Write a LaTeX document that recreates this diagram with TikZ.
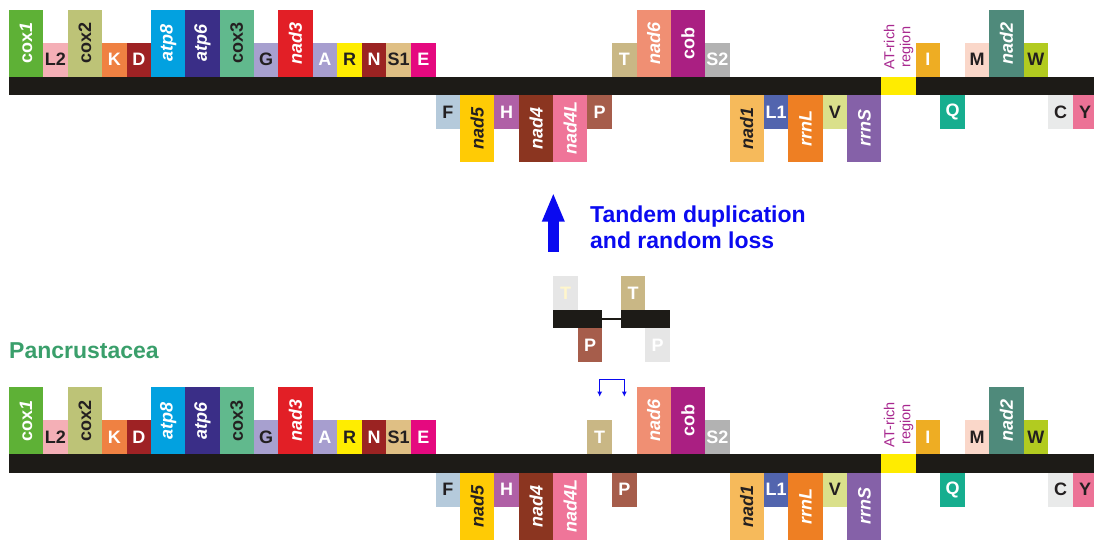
\documentclass[tikz,border=0pt]{standalone}
\usepackage{fontspec}
\setmainfont{Liberation Sans}
\usepackage{graphicx}
\usepackage{xcolor}
\usetikzlibrary{positioning,arrows.meta,calc}
\definecolor{strand}{HTML}{1D1B17}
\definecolor{darktext}{HTML}{231F20}
\definecolor{gcox1}{HTML}{5EB136}
\definecolor{gL2}{HTML}{F4AFB6}
\definecolor{gcox2}{HTML}{BDC377}
\definecolor{gK}{HTML}{EF8142}
\definecolor{gD}{HTML}{9E2224}
\definecolor{gatp8}{HTML}{02A1E0}
\definecolor{gatp6}{HTML}{3A2E87}
\definecolor{gcox3}{HTML}{61B98D}
\definecolor{gG}{HTML}{A7A0CF}
\definecolor{gnad3}{HTML}{E21F26}
\definecolor{gA}{HTML}{A79ECF}
\definecolor{gR}{HTML}{FFED00}
\definecolor{gN}{HTML}{9B2322}
\definecolor{gS1}{HTML}{DFBF84}
\definecolor{gE}{HTML}{E5097F}
\definecolor{gF}{HTML}{B5CADB}
\definecolor{gnad5}{HTML}{FFCB05}
\definecolor{gH}{HTML}{B060A6}
\definecolor{gnad4}{HTML}{8B3520}
\definecolor{gnad4L}{HTML}{EF7599}
\definecolor{gP}{HTML}{A65D4B}
\definecolor{gT}{HTML}{C9B785}
\definecolor{gnad6}{HTML}{F08F73}
\definecolor{gcob}{HTML}{AA1F82}
\definecolor{gS2}{HTML}{B2B2B2}
\definecolor{gnad1}{HTML}{F6BA5B}
\definecolor{gL1}{HTML}{5265AE}
\definecolor{grrnL}{HTML}{EE7F23}
\definecolor{gV}{HTML}{DAE08B}
\definecolor{grrnS}{HTML}{8561A8}
\definecolor{gAT}{HTML}{FFEC00}
\definecolor{gI}{HTML}{EEAD23}
\definecolor{gQ}{HTML}{16AE8F}
\definecolor{gM}{HTML}{FAD7C9}
\definecolor{gnad2}{HTML}{4F8A7B}
\definecolor{gW}{HTML}{B2CB20}
\definecolor{gC}{HTML}{E9EAEA}
\definecolor{gY}{HTML}{EC7296}
\definecolor{atrich}{HTML}{A8288F}
\definecolor{dupblue}{HTML}{0A0AF0}
\definecolor{clade}{HTML}{3A9F6B}
\definecolor{ghost}{HTML}{E6E6E6}
\definecolor{ghostT}{HTML}{FFF6CC}
\newcommand\genefont{\bfseries\fontsize{18}{18}\selectfont}
\newcommand\vlab[1]{\rotatebox{90}{#1}}
\tikzset{
  gene/.style={rectangle,inner sep=0pt,outer sep=0pt,font=\genefont},
  gp/.style={minimum width=34.2pt,minimum height=67pt},
  gt/.style={minimum width=24.6pt,minimum height=34pt},
  ga/.style={minimum width=34.2pt,minimum height=18.3pt},
  on north/.style={anchor=south west},
  on south/.style={anchor=north west},
  on center/.style={anchor=west},
  strand/.style={rectangle,fill=strand,inner sep=0pt,outer sep=0pt,
    minimum width=1085pt,minimum height=18.3pt},
  stub/.style={inner sep=0pt,outer sep=0pt,minimum size=0pt},
  atlab/.style={rotate=90,anchor=west,align=center,inner sep=0pt,text=atrich,
    font=\fontsize{14.5}{16}\selectfont},
  bigarrow/.style={draw=dupblue,line width=11pt,-{Triangle[length=29pt,width=20.6pt]}},
  dupl/.style={draw=dupblue,line width=1.3pt,{Latex[length=5pt,width=5pt]}-{Latex[length=5pt,width=5pt]}},
  duptext/.style={text=dupblue,font=\bfseries\fontsize{23}{26}\selectfont,align=left,inner sep=0pt},
}
% gene order: name/size/side/text colour/label
\newcommand\genesA{%
  cox1/p/north/white/{\vlab{cox\textit{1}}},
  L2/t/north/darktext/L2,
  cox2/p/north/darktext/{\vlab{cox2}},
  K/t/north/white/K,
  D/t/north/white/D,
  atp8/p/north/white/{\vlab{\textit{atp8}}},
  atp6/p/north/white/{\vlab{\textit{atp6}}},
  cox3/p/north/darktext/{\vlab{cox3}},
  G/t/north/darktext/G,
  nad3/p/north/white/{\vlab{\textit{nad3}}},
  A/t/north/white/A,
  R/t/north/darktext/R,
  N/t/north/white/N,
  S1/t/north/darktext/S1,
  E/t/north/white/E,
  F/t/south/darktext/F,
  nad5/p/south/darktext/{\vlab{\textit{nad5}}},
  H/t/south/white/H,
  nad4/p/south/white/{\vlab{\textit{nad4}}},
  nad4L/p/south/white/{\vlab{\textit{nad4L}}}}
\newcommand\genesB{%
  nad6/p/north/white/{\vlab{\textit{nad6}}},
  cob/p/north/white/{\vlab{cob}},
  S2/t/north/white/S2,
  nad1/p/south/darktext/{\vlab{\textit{nad1}}},
  L1/t/south/white/L1,
  rrnL/p/south/white/{\vlab{\textit{rrnL}}},
  V/t/south/darktext/V,
  rrnS/p/south/white/{\vlab{\textit{rrnS}}},
  AT/a/center/white/{},
  I/t/north/white/I,
  Q/t/south/white/Q,
  M/t/north/darktext/M,
  nad2/p/north/white/{\vlab{\textit{nad2}}},
  W/t/north/darktext/W,
  C/t/south/darktext/C,
  Y/t/south/darktext/Y}
% #1 row, #2 node to start from, #3 list
\newcommand\genes[3]{%
  \foreach \g/\k/\s/\tc/\lab [remember=\g as \prev (initially #2)] in #3 {
    \node[gene,g\k,on \s,fill=g\g,text=\tc] (#1-\g) at (#1-\prev.east |- #1-bar.\s) {\lab};
  }}

\begin{document}
\begin{tikzpicture}[x=1pt,y=1pt]
  \useasboundingbox (0,0) rectangle (1094,540);
  % derived order
  \node[strand,anchor=north west] (up-bar) at (9,463.3) {};
  \node[stub] (up-0) at (up-bar.west) {};
  \genes{up}{0}{\genesA}
  \node[gene,gt,on south,fill=gP,text=white] (up-P) at (up-nad4L.east |- up-bar.south) {P};
  \node[gene,gt,on north,fill=gT,text=white] (up-T) at (up-P.east |- up-bar.north) {T};
  \genes{up}{T}{\genesB}
  \node[atlab] (up-atlab) at ([yshift=7pt]up-AT.north) {AT-rich\\region};

  % tandem duplication
  \coordinate (arr-s) at (553.3,288.3);
  \coordinate (arr-e) at (553.3,347.3);
  \draw[bigarrow] (arr-s) -- (arr-e);
  \node[duptext,anchor=north west] (dup) at (590,334) {Tandem duplication\\and random loss};
  \node[strand,minimum width=49pt,anchor=north west] (sm-l) at (553.3,230) {};
  \node[strand,minimum width=49.3pt,anchor=north west] (sm-r) at (620.7,230) {};
  \draw[draw=strand,line width=2pt] (sm-l) -- (sm-r);
  \node[gene,gt,anchor=south west,fill=ghost,text=ghostT] (sm-T0) at (sm-l.north west) {T};
  \node[gene,gt,anchor=south west,fill=gT,text=white] (sm-T) at (sm-r.north west) {T};
  \node[gene,gt,anchor=north east,fill=gP,text=white] (sm-P) at (sm-l.south east) {P};
  \node[gene,gt,anchor=north east,fill=ghost,text=white] (sm-P0) at (sm-r.south east) {P};

  % ancestral order
  \node[font=\bfseries\fontsize{23}{26}\selectfont,text=clade,inner sep=0pt,anchor=north west] (clade) at (9,197.3) {Pancrustacea};
  \node[strand,anchor=north west] (lo-bar) at (9,85.7) {};
  \node[stub] (lo-0) at (lo-bar.west) {};
  \genes{lo}{0}{\genesA}
  \node[gene,gt,on north,fill=gT,text=white] (lo-T) at (lo-nad4L.east |- lo-bar.north) {T};
  \node[gene,gt,on south,fill=gP,text=white] (lo-P) at (lo-T.east |- lo-bar.south) {P};
  \genes{lo}{P}{\genesB}
  \node[atlab] (lo-atlab) at ([yshift=7pt]lo-AT.north) {AT-rich\\region};
  \draw[dupl] ([yshift=23.6pt]lo-T.north) coordinate (d1) -- ++(0,17.4) -| (d1 -| lo-P.north);
\end{tikzpicture}
\end{document}
